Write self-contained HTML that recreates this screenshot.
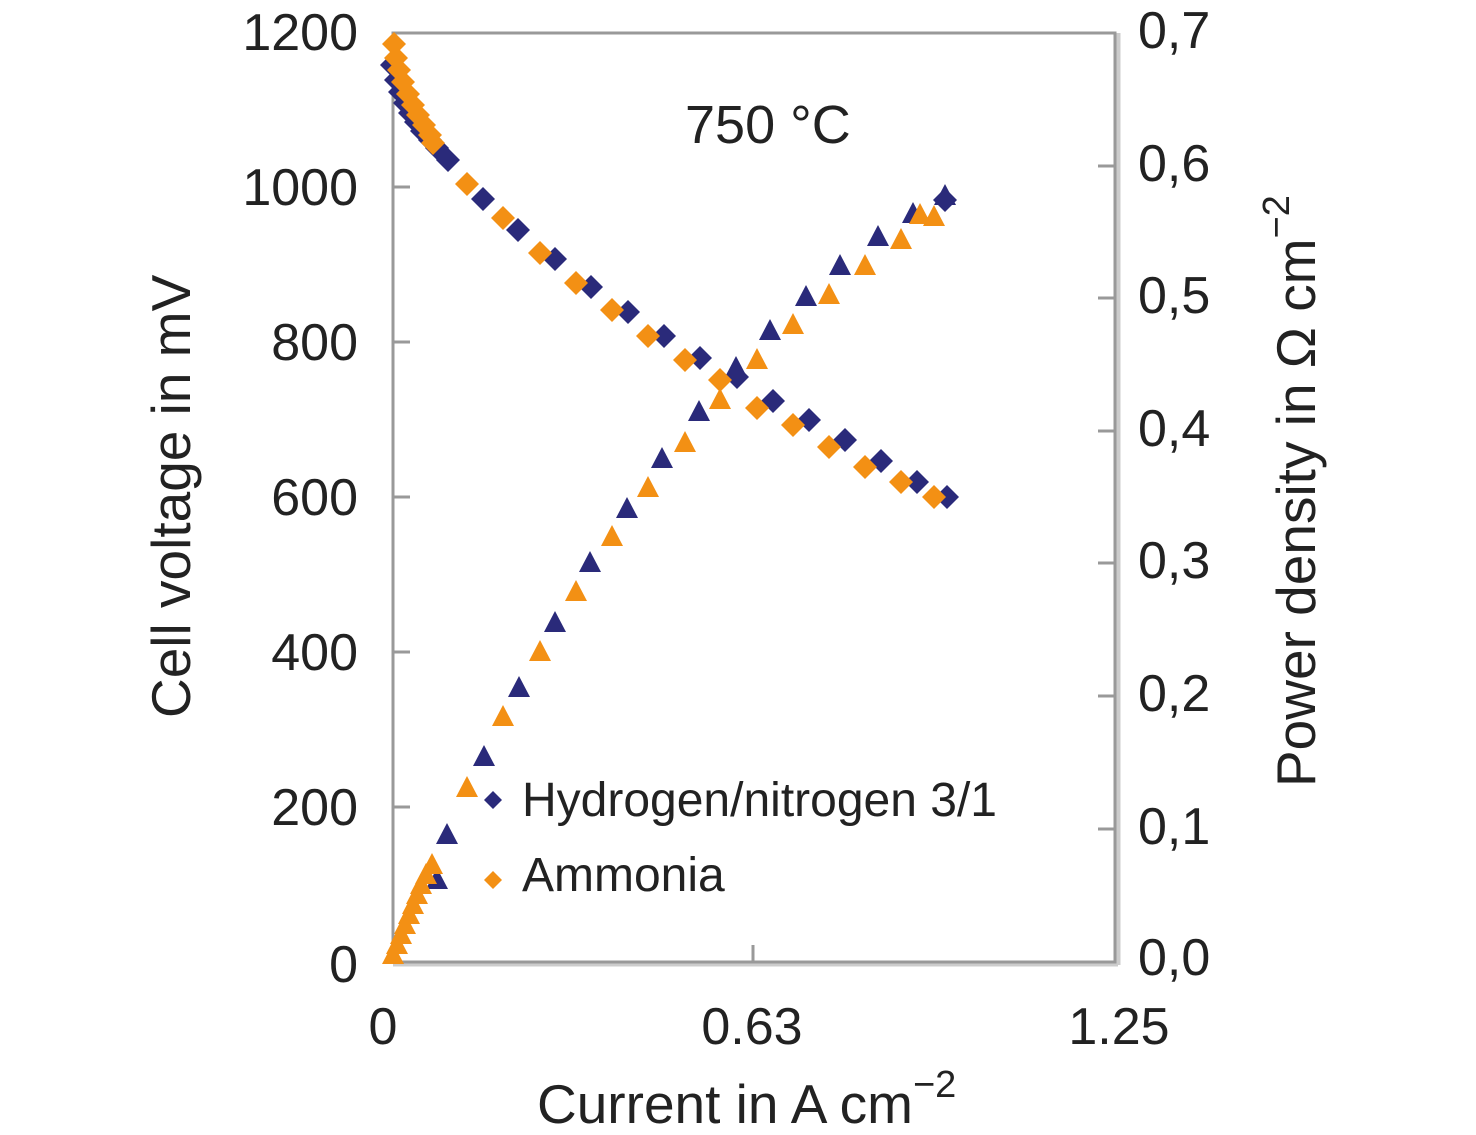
<!DOCTYPE html>
<html><head><style>body{margin:0;background:#fff}</style></head><body>
<svg width="1476" height="1130" xmlns="http://www.w3.org/2000/svg" font-family="Liberation Sans, sans-serif" fill="#222">
<rect x="0" y="0" width="1476" height="1130" fill="#fff"/>
<line x1="1118" y1="33" x2="1118" y2="965" stroke="#ccc" stroke-width="5"/>
<line x1="393" y1="964" x2="1118" y2="964" stroke="#ccc" stroke-width="5"/>
<rect x="393" y="33" width="722" height="929" fill="none" stroke="#999" stroke-width="3"/>
<g stroke="#999" stroke-width="3">
<line x1="393" y1="187" x2="410" y2="187"/><line x1="393" y1="342" x2="410" y2="342"/><line x1="393" y1="497" x2="410" y2="497"/><line x1="393" y1="652" x2="410" y2="652"/><line x1="393" y1="807" x2="410" y2="807"/>
<line x1="1098" y1="166" x2="1115" y2="166"/><line x1="1098" y1="298" x2="1115" y2="298"/><line x1="1098" y1="431" x2="1115" y2="431"/><line x1="1098" y1="563" x2="1115" y2="563"/><line x1="1098" y1="696" x2="1115" y2="696"/><line x1="1098" y1="829" x2="1115" y2="829"/>
<line x1="753" y1="945" x2="753" y2="962"/>
</g>
<g font-size="52" text-anchor="end">
<text x="358" y="50">1200</text><text x="358" y="205">1000</text><text x="358" y="360">800</text><text x="358" y="515">600</text><text x="358" y="670">400</text><text x="358" y="825">200</text><text x="358" y="982">0</text>
</g>
<g font-size="52">
<text x="1138" y="48">0,7</text><text x="1138" y="181">0,6</text><text x="1138" y="313">0,5</text><text x="1138" y="446">0,4</text><text x="1138" y="578">0,3</text><text x="1138" y="711">0,2</text><text x="1138" y="844">0,1</text><text x="1138" y="975">0,0</text>
</g>
<g font-size="52" text-anchor="middle">
<text x="383" y="1044">0</text><text x="752" y="1044">0.63</text><text x="1119" y="1044">1.25</text>
</g>
<text font-size="55" x="537" y="1123">Current in A cm<tspan font-size="38" dy="-26">−2</tspan></text>
<text font-size="54" x="685" y="143">750 °C</text>
<text font-size="55" transform="translate(190,718) rotate(-90)">Cell voltage in mV</text>
<text font-size="55" transform="translate(1315,787) rotate(-90)">Power density in Ω cm<tspan font-size="38" dy="-26">−2</tspan></text>
<defs>
<path id="d" d="M0,-12 L12,0 L0,12 L-12,0Z"/>
<path id="t" d="M0,-12 L11,9 L-11,9Z"/>
</defs>
<g fill="#2a2a7a">
<use href="#d" x="392" y="65"/><use href="#d" x="396" y="80"/><use href="#d" x="400" y="92"/><use href="#d" x="405" y="103"/><use href="#d" x="410" y="113"/><use href="#d" x="416" y="122"/><use href="#d" x="422" y="131"/><use href="#d" x="430" y="140"/><use href="#d" x="437" y="148"/>
<use href="#d" x="448" y="160"/><use href="#d" x="483" y="199"/><use href="#d" x="518" y="230"/><use href="#d" x="555" y="259"/><use href="#d" x="591" y="287"/><use href="#d" x="628" y="312"/><use href="#d" x="664" y="336"/><use href="#d" x="700" y="358"/><use href="#d" x="737" y="377"/><use href="#d" x="773" y="401"/><use href="#d" x="809" y="420"/><use href="#d" x="845" y="440"/><use href="#d" x="881" y="461"/><use href="#d" x="917" y="482"/><use href="#d" x="947" y="497"/>
<use href="#t" x="437" y="880"/><use href="#t" x="447" y="835"/><use href="#t" x="484" y="757"/><use href="#t" x="519" y="688"/><use href="#t" x="555" y="623"/><use href="#t" x="590" y="563"/><use href="#t" x="627" y="509"/><use href="#t" x="662" y="459"/><use href="#t" x="699" y="412"/><use href="#t" x="736" y="368"/><use href="#t" x="770" y="331"/><use href="#t" x="806" y="297"/><use href="#t" x="840" y="266"/><use href="#t" x="878" y="237"/><use href="#t" x="913" y="214"/><use href="#t" x="945" y="196"/><use href="#d" x="945" y="200"/>
<path d="M493,791 L502,800 L493,809 L484,800Z"/>
</g>
<g fill="#f39014">
<use href="#d" x="394" y="44"/><use href="#d" x="396" y="58"/><use href="#d" x="399" y="70"/><use href="#d" x="403" y="82"/><use href="#d" x="408" y="94"/><use href="#d" x="413" y="105"/><use href="#d" x="418" y="115"/><use href="#d" x="424" y="125"/><use href="#d" x="430" y="135"/><use href="#d" x="433" y="143"/>
<use href="#d" x="467" y="184"/><use href="#d" x="503" y="218"/><use href="#d" x="540" y="253"/><use href="#d" x="576" y="283"/><use href="#d" x="612" y="310"/><use href="#d" x="648" y="336"/><use href="#d" x="685" y="360"/><use href="#d" x="720" y="380"/><use href="#d" x="757" y="408"/><use href="#d" x="793" y="425"/><use href="#d" x="829" y="447"/><use href="#d" x="865" y="467"/><use href="#d" x="901" y="482"/><use href="#d" x="934" y="497"/>
<use href="#t" x="393" y="955"/><use href="#t" x="397" y="945"/><use href="#t" x="401" y="935"/><use href="#t" x="405" y="925"/><use href="#t" x="409" y="915"/><use href="#t" x="413" y="905"/><use href="#t" x="417" y="895"/><use href="#t" x="421" y="885"/><use href="#t" x="426" y="875"/><use href="#t" x="432" y="865"/>
<use href="#t" x="467" y="788"/><use href="#t" x="503" y="717"/><use href="#t" x="540" y="652"/><use href="#t" x="576" y="592"/><use href="#t" x="612" y="537"/><use href="#t" x="648" y="488"/><use href="#t" x="685" y="443"/><use href="#t" x="720" y="400"/><use href="#t" x="757" y="360"/><use href="#t" x="793" y="325"/><use href="#t" x="829" y="295"/><use href="#t" x="865" y="266"/><use href="#t" x="901" y="240"/><use href="#t" x="934" y="217"/><use href="#t" x="920" y="215"/>
<path d="M493,871 L502,880 L493,889 L484,880Z"/>
</g>
<g font-size="48">
<text x="522" y="816">Hydrogen/nitrogen 3/1</text>
<text x="522" y="891">Ammonia</text>
</g>
</svg>
</body></html>
